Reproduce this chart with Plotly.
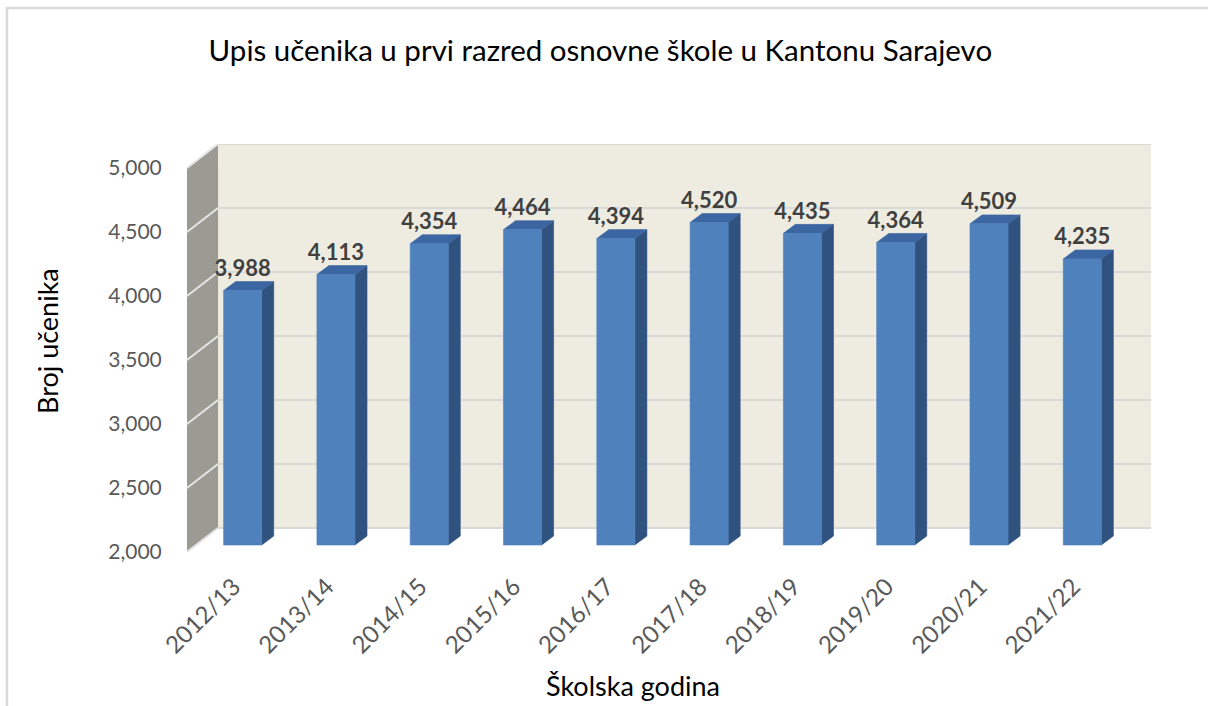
import plotly.graph_objects as go

# ---- data ----
categories = ["2012/13", "2013/14", "2014/15", "2015/16", "2016/17",
              "2017/18", "2018/19", "2019/20", "2020/21", "2021/22"]
values = [3988, 4113, 4354, 4464, 4394, 4520, 4435, 4364, 4509, 4235]
y_ticks = [2000, 2500, 3000, 3500, 4000, 4500, 5000]

title_text = "Upis učenika u prvi razred osnovne škole u Kantonu Sarajevo"
y_title = "Broj učenika"
x_title = "Školska godina"

# ---- layout constants (pixel geometry of the 3D look) ----
W, H = 1208, 706
ML, MR, MT, MB = 187, 57, 144, 154
X0, X1 = -0.5, 9.833        # x range
Y0, Y1 = 2000, 5187.5       # y range
BACK_DX, BACK_DY = 0.3326, 187.5   # depth of back wall in data units
BAR_DX, BAR_DY = 0.0966, 54.7      # bar front face offset
BAR_W = 0.408
BAR_DEPTH_X, BAR_DEPTH_Y = 0.129, 70.0

FONT = "Lato"
FRONT = "#4F81BD"
TOP = "#3C66A1"
SIDE = "#30527F"

fig = go.Figure()

# bars: front, top and side faces built from the values
front_x, front_y, top_x, top_y, side_x, side_y = [], [], [], [], [], []
for i, v in enumerate(values):
    xl = i + BAR_DX - BAR_W / 2
    xr = i + BAR_DX + BAR_W / 2
    yb = Y0 + BAR_DY
    yt = v + BAR_DY
    front_x += [xl, xr, xr, xl, xl, None]
    front_y += [yb, yb, yt, yt, yb, None]
    top_x += [xl, xr, xr + BAR_DEPTH_X, xl + BAR_DEPTH_X, xl, None]
    top_y += [yt, yt, yt + BAR_DEPTH_Y, yt + BAR_DEPTH_Y, yt, None]
    side_x += [xr, xr + BAR_DEPTH_X, xr + BAR_DEPTH_X, xr, xr, None]
    side_y += [yb, yb + BAR_DEPTH_Y, yt + BAR_DEPTH_Y, yt, yb, None]

for xs, ys, col in [(side_x, side_y, SIDE), (top_x, top_y, TOP), (front_x, front_y, FRONT)]:
    fig.add_trace(go.Scatter(x=xs, y=ys, mode="lines", fill="toself",
                             fillcolor=col, line=dict(width=0.6, color=col),
                             hoverinfo="skip", showlegend=False))

# data labels
fig.add_trace(go.Scatter(
    x=[i + BAR_DX for i in range(len(values))],
    y=[v + BAR_DY + BAR_DEPTH_Y for v in values],
    mode="text",
    text=[f"{v:,}" for v in values],
    textposition="top center",
    textfont=dict(family=FONT, size=22, color="#404040", weight="bold"),
    hoverinfo="skip", showlegend=False))

shapes = []
# back wall
shapes.append(dict(type="rect", xref="x", yref="y", layer="below",
                   x0=X0 + BACK_DX, x1=X1, y0=Y0 + BACK_DY, y1=Y1,
                   fillcolor="#EEECE1", line=dict(width=0)))
# left wall
shapes.append(dict(type="path", xref="x", yref="y", layer="below",
                   path=f"M {X0},{Y0} L {X0+BACK_DX},{Y0+BACK_DY} L {X0+BACK_DX},{Y1} L {X0},{Y1-BACK_DY} Z",
                   fillcolor="#9C9B93", line=dict(width=0)))
# gridlines
for t in y_ticks:
    shapes.append(dict(type="line", xref="x", yref="y", layer="below",
                       x0=X0 + BACK_DX, x1=X1, y0=t + BACK_DY, y1=t + BACK_DY,
                       line=dict(color="#D9D9D9", width=2)))
    shapes.append(dict(type="line", xref="x", yref="y", layer="below",
                       x0=X0, x1=X0 + BACK_DX, y0=t, y1=t + BACK_DY,
                       line=dict(color="#E4E4E4", width=2)))
# chart border
pw, ph = W - ML - MR, H - MT - MB
shapes.append(dict(type="rect", xref="paper", yref="paper",
                   x0=(7 - ML) / pw, x1=(W + 5 - ML) / pw,
                   y0=(H - MB - (H + 5)) / ph, y1=(H - MB - 8) / ph,
                   line=dict(color="#D9D9D9", width=2.5), fillcolor="rgba(0,0,0,0)"))

annotations = [
    dict(text=y_title, xref="paper", yref="paper",
         x=(47 - ML) / pw, y=(H - MB - 341) / ph, textangle=-90,
         showarrow=False, xanchor="center", yanchor="middle",
         font=dict(family=FONT, size=27, color="#000000")),
    dict(text=x_title, xref="paper", yref="paper",
         x=(633 - ML) / pw, y=(H - MB - 685) / ph,
         showarrow=False, xanchor="center", yanchor="middle",
         font=dict(family=FONT, size=27, color="#000000")),
]

fig.update_layout(
    width=W, height=H,
    margin=dict(l=ML, r=MR, t=MT, b=MB, autoexpand=False),
    paper_bgcolor="white", plot_bgcolor="white",
    title=dict(text=title_text, x=0.497, xref="container", xanchor="center",
               y=1 - 51 / H, yref="container", yanchor="middle",
               font=dict(family=FONT, size=29.5, color="#000000")),
    shapes=shapes, annotations=annotations,
    xaxis=dict(range=[X0, X1], tickvals=list(range(len(categories))), ticktext=categories,
               tickangle=-45, showgrid=False, zeroline=False, showline=False,
               ticks="outside", ticklen=10, tickcolor="rgba(0,0,0,0)",
               tickfont=dict(family=FONT, size=24, color="#595959"), fixedrange=True),
    yaxis=dict(range=[Y0, Y1], tickvals=y_ticks, tickformat=",",
               showgrid=False, zeroline=False, showline=False,
               ticks="outside", ticklen=20, tickcolor="rgba(0,0,0,0)",
               tickfont=dict(family=FONT, size=21, color="#595959"), fixedrange=True),
)

fig.write_html("out.html", config={"displayModeBar": False},
               post_script="document.body.style.margin='0';")
